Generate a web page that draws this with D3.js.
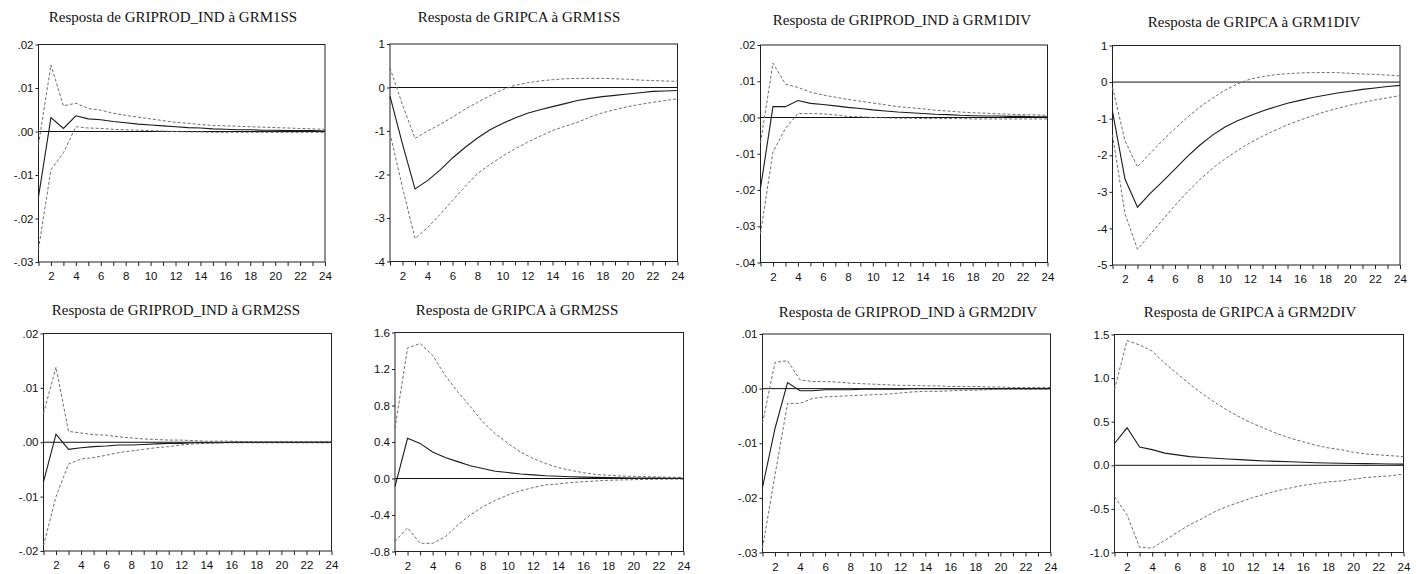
<!DOCTYPE html>
<html>
<head>
<meta charset="utf-8">
<script src="https://cdn.jsdelivr.net/npm/d3@7"></script>
<style>
  body { margin: 0; background: #fff; }
  .title { font-family: "Liberation Serif", "Times New Roman", serif; font-size: 15px; fill: #111; }
  .axis text { font-family: "Liberation Sans", Arial, sans-serif; font-size: 11.5px; fill: #111; }
  .axis line { stroke: #222; }
</style>
</head>
<body>
<div id="chart"></div>
<script>
// periods (horizon) and labelled ticks on x
var periods = [1,2,3,4,5,6,7,8,9,10,11,12,13,14,15,16,17,18,19,20,21,22,23,24];
var xLabels = [2,4,6,8,10,12,14,16,18,20,22,24];

var titles = [
  "Resposta de GRIPROD_IND à GRM1SS",
  "Resposta de GRIPCA à GRM1SS",
  "Resposta de GRIPROD_IND à GRM1DIV",
  "Resposta de GRIPCA à GRM1DIV",
  "Resposta de GRIPROD_IND à GRM2SS",
  "Resposta de GRIPCA à GRM2SS",
  "Resposta de GRIPROD_IND à GRM2DIV",
  "Resposta de GRIPCA à GRM2DIV"
];

// y ticks and their labels for each panel
var yTicks1 = [-0.03,-0.02,-0.01,0,0.01,0.02];
var yLabels1 = ["-.03","-.02","-.01",".00",".01",".02"];
var yTicks2 = [-4,-3,-2,-1,0,1];
var yLabels2 = ["-4","-3","-2","-1","0","1"];
var yTicks3 = [-0.04,-0.03,-0.02,-0.01,0,0.01,0.02];
var yLabels3 = ["-.04","-.03","-.02","-.01",".00",".01",".02"];
var yTicks4 = [-5,-4,-3,-2,-1,0,1];
var yLabels4 = ["-5","-4","-3","-2","-1","0","1"];
var yTicks5 = [-0.02,-0.01,0,0.01,0.02];
var yLabels5 = ["-.02","-.01",".00",".01",".02"];
var yTicks6 = [-0.8,-0.4,0,0.4,0.8,1.2,1.6];
var yLabels6 = ["-0.8","-0.4","0.0","0.4","0.8","1.2","1.6"];
var yTicks7 = [-0.03,-0.02,-0.01,0,0.01];
var yLabels7 = ["-.03","-.02","-.01",".00",".01"];
var yTicks8 = [-1.0,-0.5,0,0.5,1.0,1.5];
var yLabels8 = ["-1.0","-0.5","0.0","0.5","1.0","1.5"];

// GRIPROD_IND <- GRM1SS
var resp1 = [-0.0150,0.0032,0.0007,0.0036,0.0029,0.0027,0.0023,0.0020,0.0017,0.0015,0.0013,0.0011,0.0009,0.0008,0.0006,0.0005,0.0004,0.0004,0.0003,0.0003,0.0002,0.0002,0.0002,0.0001];
var upper1 = [-0.0030,0.0153,0.0059,0.0065,0.0053,0.0049,0.0042,0.0037,0.0033,0.0029,0.0025,0.0021,0.0019,0.0016,0.0014,0.0013,0.0012,0.0011,0.0010,0.0009,0.0008,0.0007,0.0006,0.0005];
var lower1 = [-0.0270,-0.0088,-0.0049,0.0011,0.0008,0.0007,0.0005,0.0004,0.0003,0.0002,0.0001,0.0000,-0.0001,-0.0001,-0.0002,-0.0002,-0.0002,-0.0002,-0.0002,-0.0002,-0.0002,-0.0002,-0.0002,-0.0002];

// GRIPCA <- GRM1SS
var resp2 = [-0.20,-1.30,-2.33,-2.14,-1.90,-1.62,-1.38,-1.16,-0.97,-0.83,-0.70,-0.59,-0.51,-0.44,-0.37,-0.30,-0.25,-0.21,-0.18,-0.15,-0.12,-0.09,-0.08,-0.07];
var upper2 = [0.45,-0.40,-1.17,-1.00,-0.85,-0.68,-0.50,-0.34,-0.19,-0.05,0.05,0.11,0.15,0.18,0.20,0.21,0.21,0.21,0.20,0.19,0.17,0.16,0.15,0.14];
var lower2 = [-1.05,-2.30,-3.47,-3.22,-2.92,-2.60,-2.28,-1.98,-1.77,-1.58,-1.41,-1.26,-1.12,-0.99,-0.89,-0.80,-0.68,-0.58,-0.51,-0.44,-0.39,-0.34,-0.30,-0.26];

// GRIPROD_IND <- GRM1DIV
var resp3 = [-0.0195,0.0030,0.0030,0.0047,0.0039,0.0036,0.0032,0.0028,0.0025,0.0021,0.0018,0.0015,0.0013,0.0011,0.0009,0.0008,0.0006,0.0005,0.0004,0.0004,0.0003,0.0003,0.0002,0.0002];
var upper3 = [-0.0070,0.0150,0.0092,0.0083,0.0070,0.0062,0.0056,0.0050,0.0045,0.0040,0.0035,0.0030,0.0027,0.0024,0.0020,0.0018,0.0015,0.0013,0.0012,0.0010,0.0009,0.0008,0.0007,0.0006];
var lower3 = [-0.0320,-0.0095,-0.0030,0.0011,0.0011,0.0010,0.0007,0.0003,0.0002,0.0000,-0.0001,-0.0002,-0.0002,-0.0003,-0.0003,-0.0003,-0.0003,-0.0004,-0.0004,-0.0004,-0.0004,-0.0004,-0.0004,-0.0004];

// GRIPCA <- GRM1DIV
var resp4 = [-0.80,-2.65,-3.42,-3.05,-2.72,-2.38,-2.03,-1.72,-1.45,-1.23,-1.06,-0.92,-0.79,-0.68,-0.58,-0.50,-0.42,-0.36,-0.30,-0.25,-0.20,-0.16,-0.12,-0.09];
var upper4 = [-0.15,-1.60,-2.32,-1.95,-1.60,-1.27,-0.96,-0.68,-0.44,-0.22,-0.05,0.08,0.15,0.20,0.23,0.25,0.26,0.26,0.26,0.24,0.22,0.21,0.19,0.17];
var lower4 = [-1.45,-3.60,-4.57,-4.17,-3.77,-3.37,-3.00,-2.66,-2.36,-2.10,-1.87,-1.66,-1.48,-1.32,-1.17,-1.04,-0.92,-0.81,-0.72,-0.63,-0.56,-0.49,-0.43,-0.37];

// GRIPROD_IND <- GRM2SS
var resp5 = [-0.0073,0.0015,-0.0013,-0.0010,-0.0008,-0.0007,-0.0005,-0.0005,-0.0004,-0.0003,-0.0002,-0.0002,-0.0001,-0.0001,-0.0001,0,0,0,0,0,0,0,0,0];
var upper5 = [0.0053,0.0138,0.0020,0.0017,0.0014,0.0013,0.0010,0.0008,0.0006,0.0005,0.0004,0.0004,0.0003,0.0002,0.0002,0.0002,0.0001,0.0001,0.0001,0.0001,0.0001,0.0001,0.0001,0.0001];
var lower5 = [-0.0190,-0.0100,-0.0040,-0.0031,-0.0028,-0.0024,-0.0019,-0.0016,-0.0013,-0.0010,-0.0008,-0.0005,-0.0003,-0.0002,-0.0001,-0.0001,-0.0001,-0.0001,-0.0001,-0.0001,-0.0001,-0.0001,-0.0001,-0.0001];

// GRIPCA <- GRM2SS
var resp6 = [-0.09,0.44,0.385,0.29,0.23,0.185,0.14,0.11,0.08,0.065,0.05,0.04,0.03,0.025,0.02,0.015,0.012,0.01,0.008,0.006,0.005,0.004,0.003,0.003];
var upper6 = [0.55,1.43,1.48,1.35,1.13,0.95,0.79,0.62,0.49,0.385,0.29,0.22,0.165,0.12,0.09,0.064,0.045,0.035,0.027,0.024,0.02,0.016,0.013,0.012];
var lower6 = [-0.69,-0.54,-0.71,-0.71,-0.64,-0.51,-0.40,-0.31,-0.24,-0.18,-0.135,-0.10,-0.07,-0.06,-0.045,-0.035,-0.027,-0.02,-0.016,-0.013,-0.01,-0.008,-0.007,-0.006];

// GRIPROD_IND <- GRM2DIV
var resp7 = [-0.0181,-0.0073,0.0011,-0.0004,-0.0004,-0.0002,-0.0002,-0.0002,-0.0001,-0.0001,-0.0001,-0.0001,0,0,0,0,0,0,0,0,0,0,0,0];
var upper7 = [-0.0063,0.0048,0.0051,0.0016,0.0013,0.0013,0.0012,0.0010,0.0009,0.0008,0.0007,0.0006,0.0006,0.0005,0.0005,0.0004,0.0004,0.0004,0.0003,0.0003,0.0002,0.0002,0.0002,0.0002];
var lower7 = [-0.0292,-0.0158,-0.0027,-0.0027,-0.0018,-0.0015,-0.0014,-0.0013,-0.0012,-0.0011,-0.0010,-0.0008,-0.0006,-0.0005,-0.0005,-0.0004,-0.0003,-0.0003,-0.0002,-0.0001,-0.0001,-0.0001,-0.0001,-0.0001];

// GRIPCA <- GRM2DIV
var resp8 = [0.25,0.43,0.21,0.18,0.14,0.12,0.10,0.09,0.08,0.073,0.065,0.057,0.05,0.045,0.04,0.035,0.03,0.027,0.024,0.021,0.019,0.017,0.015,0.013];
var upper8 = [0.87,1.43,1.38,1.31,1.17,1.05,0.93,0.82,0.72,0.63,0.55,0.48,0.42,0.36,0.31,0.27,0.23,0.20,0.18,0.15,0.13,0.12,0.11,0.10];
var lower8 = [-0.36,-0.57,-0.94,-0.95,-0.86,-0.77,-0.68,-0.61,-0.53,-0.47,-0.42,-0.37,-0.33,-0.29,-0.26,-0.23,-0.21,-0.19,-0.18,-0.16,-0.14,-0.13,-0.12,-0.10];

var panels = [
  { title: titles[0], ticks: yTicks1, labels: yLabels1, resp: resp1, upper: upper1, lower: lower1 },
  { title: titles[1], ticks: yTicks2, labels: yLabels2, resp: resp2, upper: upper2, lower: lower2 },
  { title: titles[2], ticks: yTicks3, labels: yLabels3, resp: resp3, upper: upper3, lower: lower3 },
  { title: titles[3], ticks: yTicks4, labels: yLabels4, resp: resp4, upper: upper4, lower: lower4 },
  { title: titles[4], ticks: yTicks5, labels: yLabels5, resp: resp5, upper: upper5, lower: lower5 },
  { title: titles[5], ticks: yTicks6, labels: yLabels6, resp: resp6, upper: upper6, lower: lower6 },
  { title: titles[6], ticks: yTicks7, labels: yLabels7, resp: resp7, upper: upper7, lower: lower7 },
  { title: titles[7], ticks: yTicks8, labels: yLabels8, resp: resp8, upper: upper8, lower: lower8 }
];

// plot boxes (left, right, top, bottom) and title anchor for each panel
var layout = [
  { l: 38.5,  r: 325,    t: 44.5, b: 262,   tx: 173,  ty: 22 },
  { l: 390,   r: 677.5,  t: 44,   b: 261.5, tx: 519,  ty: 22 },
  { l: 760.5, r: 1047.5, t: 45,   b: 262.5, tx: 902,  ty: 25 },
  { l: 1112.5,r: 1400,   t: 45.5, b: 265,   tx: 1254, ty: 26.5 },
  { l: 43.5,  r: 331.5,  t: 333.5,b: 551,   tx: 176,  ty: 315 },
  { l: 395,   r: 683.5,  t: 332.5,b: 551.5, tx: 517,  ty: 315 },
  { l: 762.5, r: 1050.5, t: 334,  b: 552.5, tx: 908,  ty: 316.5 },
  { l: 1114.5,r: 1403.5, t: 334.5,b: 552.5, tx: 1250, ty: 316.5 }
];

var svg = d3.select("#chart")
  .append("svg")
  .attr("width", 1416)
  .attr("height", 574);

panels.forEach(function (p, i) {
  var box = layout[i];
  var g = svg.append("g");

  var x = d3.scaleLinear().domain([1, 24]).range([box.l, box.r]);
  var y = d3.scaleLinear().domain(d3.extent(p.ticks)).range([box.b, box.t]);

  // title
  g.append("text")
    .attr("class", "title")
    .attr("x", box.tx)
    .attr("y", box.ty)
    .attr("text-anchor", "middle")
    .text(p.title);

  // y axis
  g.append("g")
    .attr("class", "axis")
    .attr("transform", "translate(" + box.l + ",0)")
    .call(d3.axisLeft(y)
      .tickValues(p.ticks)
      .tickFormat(function (d, j) { return p.labels[j]; })
      .tickSize(3)
      .tickPadding(2))
    .select(".domain").remove();

  // x axis
  g.append("g")
    .attr("class", "axis")
    .attr("transform", "translate(0," + box.b + ")")
    .call(d3.axisBottom(x)
      .tickValues(periods)
      .tickFormat(function (d) { return xLabels.indexOf(d) >= 0 ? d : ""; })
      .tickSize(4)
      .tickPadding(6))
    .select(".domain").remove();

  // frame
  g.append("rect")
    .attr("x", box.l)
    .attr("y", box.t)
    .attr("width", box.r - box.l)
    .attr("height", box.b - box.t)
    .attr("fill", "none")
    .attr("stroke", "#222")
    .attr("stroke-width", 1);

  // zero line
  g.append("line")
    .attr("x1", box.l)
    .attr("x2", box.r)
    .attr("y1", y(0))
    .attr("y2", y(0))
    .attr("stroke", "#111")
    .attr("stroke-width", 1);

  var line = d3.line()
    .x(function (d, k) { return x(periods[k]); })
    .y(function (d) { return y(d); });

  // confidence bands
  [p.upper, p.lower].forEach(function (band) {
    g.append("path")
      .datum(band)
      .attr("d", line)
      .attr("fill", "none")
      .attr("stroke", "#6e6e6e")
      .attr("stroke-width", 1)
      .attr("stroke-dasharray", "3,2");
  });

  // response
  g.append("path")
    .datum(p.resp)
    .attr("d", line)
    .attr("fill", "none")
    .attr("stroke", "#1a1a1a")
    .attr("stroke-width", 1.1);
});
</script>
</body>
</html>
